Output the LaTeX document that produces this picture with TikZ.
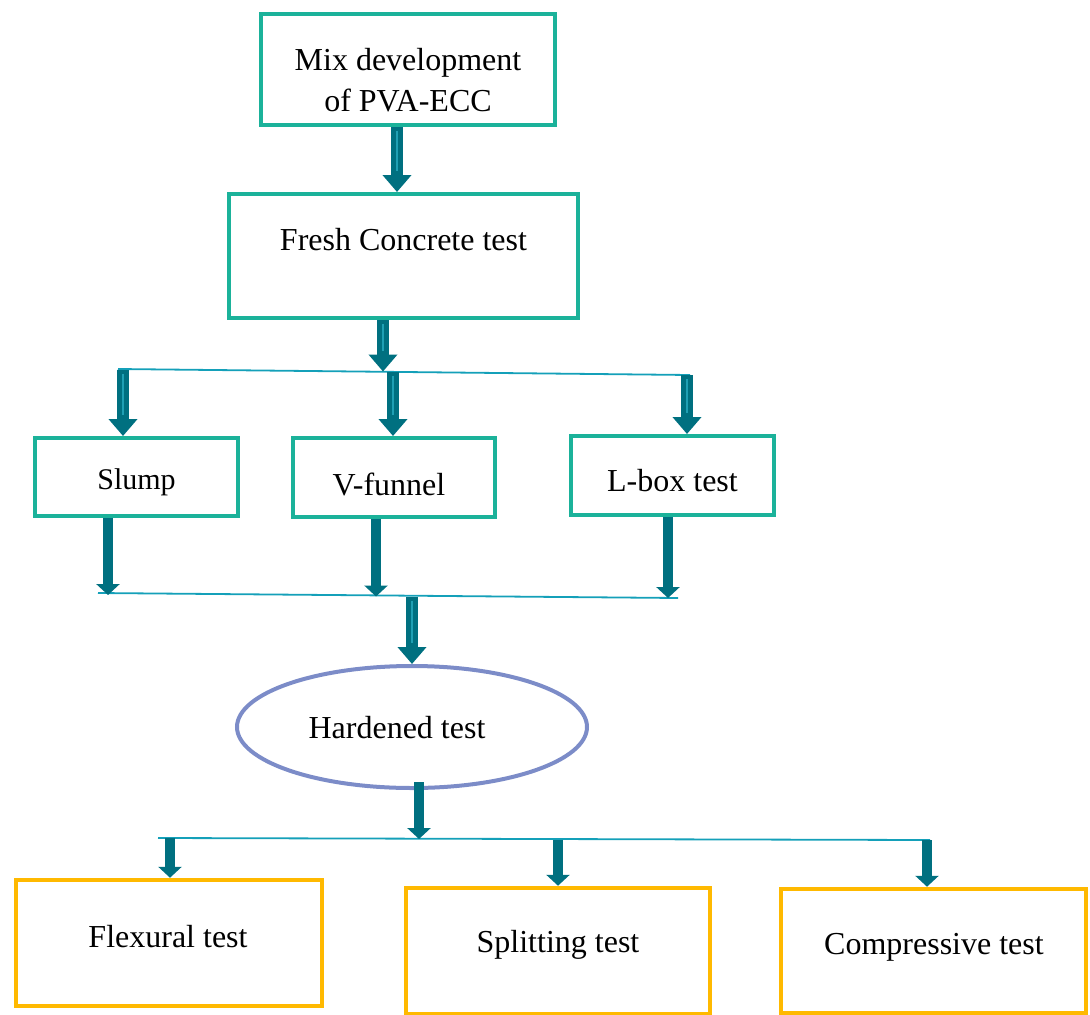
\documentclass[tikz,border=0pt]{standalone}
\usepackage{fontspec}
\setmainfont{Liberation Serif}
\usetikzlibrary{arrows.meta,calc,shapes.geometric}
\definecolor{boxteal}{RGB}{27,178,154}
\definecolor{arrteal}{RGB}{0,112,128}
\definecolor{stripe}{RGB}{32,160,180}
\definecolor{hlinec}{RGB}{20,160,185}
\definecolor{ellc}{RGB}{124,140,200}
\definecolor{orangec}{RGB}{255,185,0}
\tikzset{
  tbox/.style={draw=boxteal, line width=4pt, rectangle, inner sep=0pt},
  obox/.style={draw=orangec, line width=4.5pt, rectangle, inner sep=0pt},
  txt/.style={font=\fontsize{32}{41}\selectfont, align=center, inner sep=0pt, text=black},
  hline/.style={draw=hlinec, line width=1.8pt},
  bigarrow/.style={draw=arrteal, line width=12pt, -{Triangle[width=28pt,length=17pt]},
     postaction={draw=stripe, line width=2.5pt, -, shorten >=21pt, shorten <=4pt}},
  smallarrow/.style={draw=arrteal, line width=10pt, -{Triangle[width=23pt,length=11pt]}},
}
\begin{document}
\begin{tikzpicture}[x=1pt,y=-1pt]
\useasboundingbox (0,0) rectangle (1090,1015);
% boxes
\node[tbox, minimum width=294pt, minimum height=111pt] (b1) at (408,69.5) {};
\node[txt] (t1) at (408,80.5) {Mix development\\of PVA-ECC};
\node[tbox, minimum width=349pt, minimum height=124pt] (b2) at (403.5,256) {};
\node[txt] (t2) at (403.5,240) {Fresh Concrete test};
\node[tbox, minimum width=203pt, minimum height=78pt] (s1) at (136.5,477) {};
\node[txt, font=\fontsize{30}{36}\selectfont] (ts1) at (136.5,482) {Slump};
\node[tbox, minimum width=202pt, minimum height=79pt] (s2) at (394,477.5) {};
\node[txt] (ts2) at (389,484) {V-funnel};
\node[tbox, minimum width=203pt, minimum height=79pt] (s3) at (672.5,475.5) {};
\node[txt] (ts3) at (672.5,481) {L-box test};
\node[draw=ellc, line width=4pt, ellipse, minimum width=350pt, minimum height=122pt, inner sep=0pt] (e) at (412,727) {};
\node[txt] (te) at (397,728) {Hardened test};
\node[obox, minimum width=306pt, minimum height=126pt] (f1) at (169,943) {};
\node[txt] (tf1) at (168,937) {Flexural test};
\node[obox, minimum width=304pt, minimum height=126pt] (f2) at (558,951) {};
\node[txt] (tf2) at (558,945) {Splitting test};
\node[obox, minimum width=305pt, minimum height=124pt] (f3) at (933.5,951) {};
\node[txt] (tf3) at (934,947) {Compressive test};
% branch lines
\coordinate (h1a) at (118,369);
\coordinate (h1b) at (690,375);
\coordinate (h2a) at (98,593);
\coordinate (h2b) at (678,598);
\coordinate (h3a) at (158,838);
\coordinate (h3b) at (930,840);
\draw[hline] (h1a) -- (h1b);
\draw[hline] (h2a) -- (h2b);
\draw[hline] (h3a) -- (h3b);
% arrow end points on lines
\coordinate (p2) at (383,371.5);
\coordinate (q1) at (123,370);
\coordinate (q2) at (393,371.5);
\coordinate (q3) at (687,375);
\coordinate (r1) at (108,595);
\coordinate (r2) at (376,596.5);
\coordinate (r3) at (668,598);
\coordinate (r0) at (412,596.5);
\coordinate (u0s) at (419,782);
\coordinate (u0) at (419,839);
\coordinate (u1) at (170,838);
\coordinate (u2) at (558,839.5);
\coordinate (u3) at (927,840);
% arrows
\draw[bigarrow] ([xshift=-11pt]b1.south) -- ([xshift=-6.5pt]b2.north);
\draw[bigarrow] ([xshift=-20.5pt]b2.south) -- (p2);
\draw[bigarrow] (q1) -- (q1 |- s1.north);
\draw[bigarrow] (q2) -- (q2 |- s2.north);
\draw[bigarrow] (q3) -- (q3 |- s3.north);
\draw[smallarrow] (r1 |- s1.south) -- (r1);
\draw[smallarrow] (r2 |- s2.south) -- (r2);
\draw[smallarrow] (r3 |- s3.south) -- (r3);
\draw[bigarrow] (r0) -- (e.north);
\draw[smallarrow] (u0s) -- (u0);
\draw[smallarrow] (u1) -- (u1 |- f1.north);
\draw[smallarrow] (u2) -- (u2 |- f2.north);
\draw[smallarrow] (u3) -- (u3 |- f3.north);
\end{tikzpicture}
\end{document}
